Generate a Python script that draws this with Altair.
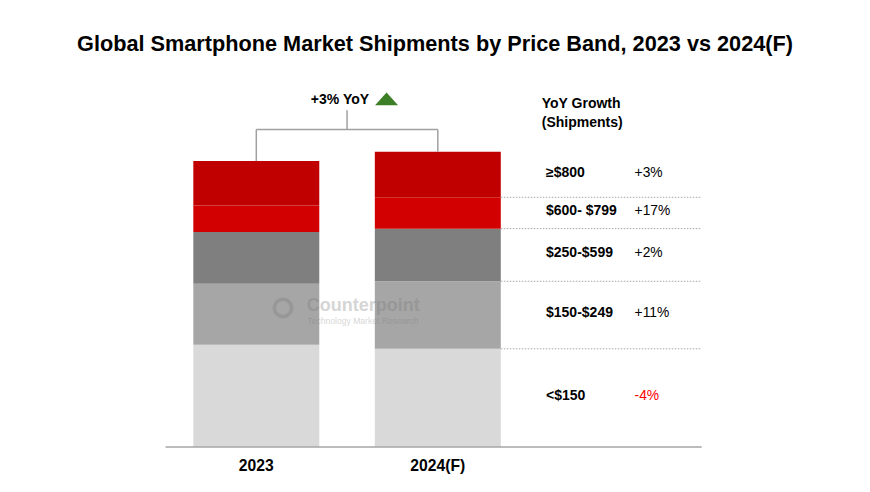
import altair as alt
import pandas as pd

# ---------------- data ----------------
years = ["2023", "2024(F)"]
bands = ["<$150", "$150-$249", "$250-$599", "$600- $799", "≥$800"]  # bottom -> top
ship_2023 = [418, 249, 211, 109, 181]   # million units (estimated)
ship_2024 = [401, 276, 215, 128, 186]
growth_labels = ["-4%", "+11%", "+2%", "+17%", "+3%"]
growth_sign = [-1, 1, 1, 1, 1]
band_colors = ["#D9D9D9", "#A6A6A6", "#7F7F7F", "#D20000", "#C00000"]
total_growth_label = "+3% YoY"
header_lines = ["YoY Growth", "(Shipments)"]
title_text = "Global Smartphone Market Shipments by Price Band, 2023 vs 2024(F)"
watermark = ["Counterpoint", "Technology Market Research"]

# ---------------- layout constants ----------------
FONT = "Liberation Sans"
PLOT_TOP, PLOT_H, PLOT_BOTTOM = 70, 377, 45
W = 870
BAR_HALF = 0.347
X_DOMAIN = [-1.412, 3.381]
Y_MAX = 1540
BASE_X = [-0.5, 2.454]
YEAR_Y = -79
LABEL_X = 1.596
GROWTH_X = 2.084
LABEL_DY = -2
HEADER_X, HEADER_Y = 1.5725, 1403
BRACKET_Y = 1297
STEM_Y = 1376
YOY_X, YOY_Y = 0.461, 1419
TRI_X, TRI_Y = 0.7176, 1422

xscale = alt.Scale(domain=X_DOMAIN, nice=False, zero=False)
yscale = alt.Scale(domain=[0, Y_MAX], nice=False, zero=False)


def X(f):
    return alt.X(f, scale=xscale, axis=None)


def Y(f):
    return alt.Y(f, scale=yscale, axis=None)


# ---------------- tables ----------------
rows = []
for i, (yr, vals) in enumerate(zip(years, [ship_2023, ship_2024])):
    cum = 0
    for b, v in zip(bands, vals):
        rows.append(dict(year=yr, band=b, x0=i - BAR_HALF, x1=i + BAR_HALF,
                         y0=cum, y1=cum + v))
        cum += v
bars_df = pd.DataFrame(rows)
tot23, tot24 = sum(ship_2023), sum(ship_2024)
years_df = pd.DataFrame({"year": years, "x": list(range(len(years))),
                         "y": [YEAR_Y] * len(years)})

# 2024 segment centres for the right-hand labels
lab_rows = []
cum = 0
for b, v, g, s in zip(bands, ship_2024, growth_labels, growth_sign):
    lab_rows.append(dict(band=b, ymid=cum + v / 2, growth=g, neg=s < 0,
                         top=cum + v, lx=LABEL_X, gx=GROWTH_X))
    cum += v
lab_df = pd.DataFrame(lab_rows)
div_df = lab_df.iloc[:-1].assign(xa=1 + BAR_HALF, xb=BASE_X[1])

bracket_df = pd.DataFrame([
    dict(x=0, y=tot23, x2=0, y2=BRACKET_Y),
    dict(x=1, y=tot24, x2=1, y2=BRACKET_Y),
    dict(x=0, y=BRACKET_Y, x2=1, y2=BRACKET_Y),
    dict(x=0.5, y=BRACKET_Y, x2=0.5, y2=STEM_Y),
])
base_df = pd.DataFrame([dict(x=BASE_X[0], x2=BASE_X[1], y=0)])
header_df = pd.DataFrame([dict(x=HEADER_X, y=HEADER_Y, t=header_lines)])
yoy_df = pd.DataFrame([dict(x=YOY_X, y=YOY_Y, t=total_growth_label)])
tri_df = pd.DataFrame([dict(x=TRI_X, y=TRI_Y)])
wm_df = pd.DataFrame([dict(x=0.278, y=577, t=watermark[0])])
wm2_df = pd.DataFrame([dict(x=0.281, y=515, t=watermark[1])])
ring_df = pd.DataFrame([dict(x=0.147, y=568)])

# ---------------- layers ----------------
bars = alt.Chart(bars_df).mark_rect().encode(
    x=X("x0:Q"), x2="x1:Q", y=Y("y0:Q"), y2="y1:Q",
    color=alt.Color("band:N", scale=alt.Scale(domain=bands, range=band_colors),
                    legend=None),
)

year_text = alt.Chart(years_df).mark_text(
    align="center", baseline="middle", font=FONT, fontSize=15.7,
    fontWeight="bold", color="black").encode(x=X("x:Q"), y=Y("y:Q"), text="year:N")

baseline = alt.Chart(base_df).mark_rule(color="#A6A6A6", strokeWidth=1.6).encode(
    x=X("x:Q"), x2="x2:Q", y=Y("y:Q"))

dividers = alt.Chart(div_df).mark_rule(color="#A6A6A6", strokeWidth=1,
                                       strokeDash=[1.5, 1.5]).encode(
    x=X("xa:Q"), x2="xb:Q", y=Y("top:Q"))

band_text = alt.Chart(lab_df).mark_text(
    align="left", baseline="middle", font=FONT, fontSize=14, fontWeight="bold",
    color="black", dy=LABEL_DY).encode(x=X("lx:Q"), y=Y("ymid:Q"), text="band:N")

growth_text = alt.Chart(lab_df).mark_text(
    align="left", baseline="middle", font=FONT, fontSize=13.8,
    dy=LABEL_DY).encode(
    x=X("gx:Q"), y=Y("ymid:Q"), text="growth:N",
    color=alt.condition("datum.neg", alt.value("#FF0000"), alt.value("#000000")))

header = alt.Chart(header_df).mark_text(
    align="left", baseline="middle", font=FONT, fontSize=14, fontWeight="bold",
    lineHeight=19, color="black").encode(x=X("x:Q"), y=Y("y:Q"), text="t")

bracket = alt.Chart(bracket_df).mark_rule(color="#A0A0A0", strokeWidth=1.5).encode(
    x=X("x:Q"), x2="x2:Q", y=Y("y:Q"), y2="y2:Q")

yoy = alt.Chart(yoy_df).mark_text(
    align="center", baseline="middle", font=FONT, fontSize=14, fontWeight="bold",
    color="black").encode(x=X("x:Q"), y=Y("y:Q"), text="t:N")

tri = alt.Chart(tri_df).mark_point(
    shape="M-1,0.55L1,0.55L0,-0.55Z", filled=True, color="#3D7F26", opacity=1,
    size=529, strokeWidth=0).encode(x=X("x:Q"), y=Y("y:Q"))

wm1 = alt.Chart(wm_df).mark_text(
    align="left", baseline="middle", font=FONT, fontSize=18, fontWeight="bold",
    color="#777777", opacity=0.3).encode(x=X("x:Q"), y=Y("y:Q"), text="t:N")
wm2 = alt.Chart(wm2_df).mark_text(
    align="left", baseline="middle", font=FONT, fontSize=8.6, color="#777777",
    opacity=0.3).encode(x=X("x:Q"), y=Y("y:Q"), text="t:N")
wm_ring = alt.Chart(ring_df).mark_point(
    shape="circle", filled=False, color="#777777", opacity=0.3, size=300,
    strokeWidth=3.5).encode(x=X("x:Q"), y=Y("y:Q"))

chart = alt.layer(
    bars, baseline, dividers, bracket, year_text, band_text, growth_text, header,
    yoy, tri, wm_ring, wm1, wm2,
).properties(
    width=W, height=PLOT_H,
    padding={"left": 0, "top": PLOT_TOP, "right": 0, "bottom": PLOT_BOTTOM},
    autosize=alt.AutoSizeParams(type="none"),
    title=alt.TitleParams(title_text, font=FONT, fontSize=21.7, fontWeight="bold",
                          color="black", anchor="middle", baseline="middle",
                          offset=4),
).configure_view(strokeWidth=0)

chart.save("out.html", embed_options={"renderer": "svg", "actions": False})
